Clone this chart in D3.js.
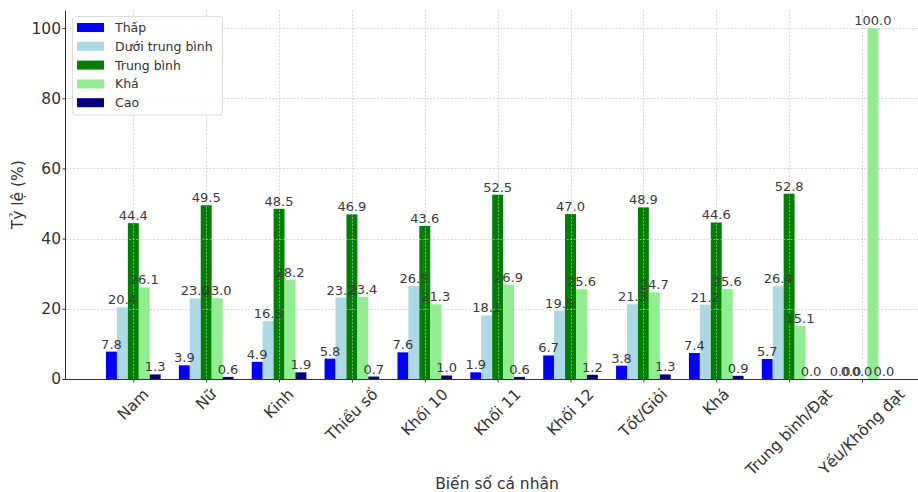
<!DOCTYPE html>
<html>
<head>
<meta charset="utf-8">
<script src="https://cdn.jsdelivr.net/npm/d3@7/dist/d3.min.js"></script>
<style>
  html, body { margin: 0; padding: 0; background: #fff; }
  svg { display: block; font-family: "DejaVu Sans", sans-serif; }
</style>
</head>
<body>
<svg id="chart" width="918" height="492"></svg>
<script>
const categories = ["Nam", "Nữ", "Kinh", "Thiểu số", "Khối 10", "Khối 11", "Khối 12", "Tốt/Giỏi", "Khá", "Trung bình/Đạt", "Yếu/Không đạt"];
const seriesNames = ["Thấp", "Dưới trung bình", "Trung bình", "Khá", "Cao"];
const thap      = [7.8, 3.9, 4.9, 5.8, 7.6, 1.9, 6.7, 3.8, 7.4, 5.7, 0.0];
const duoiTB    = [20.4, 23.0, 16.5, 23.2, 26.5, 18.1, 19.5, 21.3, 21.2, 26.4, 0.0];
const trungBinh = [44.4, 49.5, 48.5, 46.9, 43.6, 52.5, 47.0, 48.9, 44.6, 52.8, 0.0];
const kha       = [26.1, 23.0, 28.2, 23.4, 21.3, 26.9, 25.6, 24.7, 25.6, 15.1, 100.0];
const cao       = [1.3, 0.6, 1.9, 0.7, 1.0, 0.6, 1.2, 1.3, 0.9, 0.0, 0.0];
const yTicks = [0, 20, 40, 60, 80, 100];
const colors = ["#0000ff", "#add8e6", "#008000", "#90ee90", "#000080"];

const series = [thap, duoiTB, trungBinh, kha, cao];

(function () {
const svg = d3.select("#chart");
const pL = 66, pR = 928, pT = 10.5, pB = 379;

const x = d3.scaleLinear().domain([-0.924, 10.906]).range([pL, pR]);
const y = d3.scaleLinear().domain([0, 105]).range([pB, pT]);
const barW = 0.15;

// bars
const gBars = svg.append("g");
series.forEach((vals, si) => {
  const off = (si - 2) * barW;
  gBars.selectAll(null).data(vals).enter().append("rect")
    .attr("x", (d, i) => x(i + off - barW / 2))
    .attr("width", (d, i) => x(i + off + barW / 2) - x(i + off - barW / 2))
    .attr("y", d => y(d))
    .attr("height", d => y(0) - y(d))
    .attr("fill", colors[si]);
});

// grid (drawn on top like the reference)
const gGrid = svg.append("g").attr("stroke", "#c4c4c4").attr("stroke-opacity", 0.65)
  .attr("stroke-width", 1).attr("stroke-dasharray", "2,1.5");
gGrid.selectAll(null).data(yTicks).enter().append("line")
  .attr("x1", pL).attr("x2", pR)
  .attr("y1", d => Math.round(y(d)) + 0.5).attr("y2", d => Math.round(y(d)) + 0.5);
gGrid.selectAll(null).data(categories).enter().append("line")
  .attr("y1", pT).attr("y2", pB)
  .attr("x1", (d, i) => Math.round(x(i)) + 0.5).attr("x2", (d, i) => Math.round(x(i)) + 0.5);

// value labels
const gLab = svg.append("g").attr("font-size", 13).attr("fill", "#3a3a3a").attr("text-anchor", "middle");
series.forEach((vals, si) => {
  const off = (si - 2) * barW;
  gLab.selectAll(null).data(vals).enter().append("text")
    .attr("x", (d, i) => x(i + off))
    .attr("y", d => y(d) - 3)
    .text(d => d.toFixed(1));
});

// axes
const yAxis = d3.axisLeft(y).tickValues(yTicks).tickSize(3.5).tickPadding(1.5).tickFormat(d3.format("d"));
const gy = svg.append("g").attr("transform", `translate(${pL},0)`).call(yAxis);
gy.select(".domain").attr("stroke", "#333").attr("d", `M-0.5,${pT}V${pB}`);
gy.selectAll(".tick line").attr("stroke", "#333");
gy.selectAll(".tick text").attr("font-size", 15.5).attr("fill", "#333").attr("font-family", "DejaVu Sans");

const xAxis = d3.axisBottom(x).tickValues(d3.range(categories.length)).tickSize(3.5).tickFormat(() => "");
const gx = svg.append("g").attr("transform", `translate(0,${pB})`).call(xAxis);
gx.select(".domain").attr("stroke", "#333").attr("d", `M${pL},0.5H${pR}`);
gx.selectAll(".tick line").attr("stroke", "#333");

// rotated x tick labels (centered, 45°)
const fs = 15.5;
const gxl = svg.append("g").attr("font-size", fs).attr("fill", "#333");
categories.forEach((c, i) => {
  const t = gxl.append("text").attr("text-anchor", "middle").attr("dominant-baseline", "central").text(c);
  const L = t.node().getComputedTextLength();
  const h = fs * 0.95;
  const half = (L + h) * Math.SQRT1_2 / 2;
  t.attr("transform", `translate(${x(i)},${pB + 7.5 + half}) rotate(-45)`);
});

// axis titles
svg.append("text").attr("x", (pL + pR) / 2).attr("y", 489).attr("text-anchor", "middle")
  .attr("font-size", 15.5).attr("fill", "#333").text("Biến số cá nhân");
svg.append("text").attr("transform", `translate(23,${(pT + pB) / 2}) rotate(-90)`)
  .attr("text-anchor", "middle").attr("font-size", 15.5).attr("fill", "#333").text("Tỷ lệ (%)");

// legend
const lg = svg.append("g");
lg.append("rect").attr("x", 72.5).attr("y", 16.5).attr("width", 150).attr("height", 98.5)
  .attr("rx", 3).attr("fill", "#fff").attr("fill-opacity", 0.85).attr("stroke", "#dcdcdc");
seriesNames.forEach((n, i) => {
  const cy = 27.5 + i * 18.8;
  lg.append("rect").attr("x", 77).attr("y", cy - 4.5).attr("width", 27).attr("height", 9).attr("fill", colors[i]);
  lg.append("text").attr("x", 115).attr("y", cy).attr("dominant-baseline", "central")
    .attr("font-size", 12.5).attr("fill", "#333").text(n);
});
})();
</script>
</body>
</html>
